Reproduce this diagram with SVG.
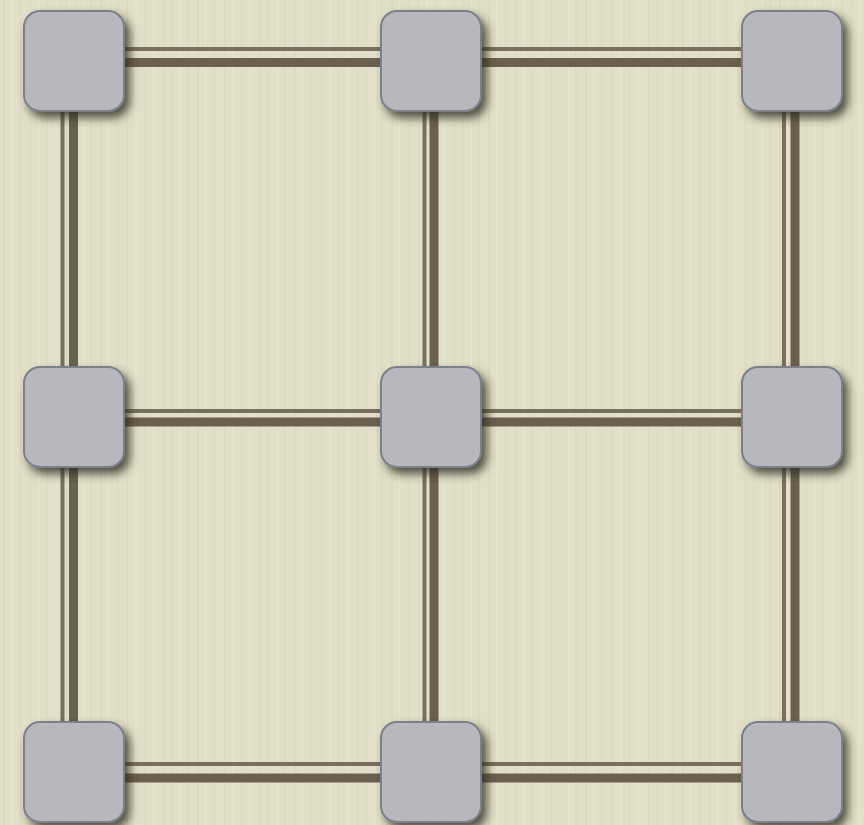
<svg xmlns="http://www.w3.org/2000/svg" width="864" height="825" viewBox="0 0 864 825">
<defs>
<pattern id="tex" x="0" y="0" width="97" height="825" patternUnits="userSpaceOnUse">
<rect width="97" height="825" fill="#e1dfc7"/>
<rect x="3" width="2" height="825" fill="#d3d2b6" opacity="0.4"/>
<rect x="11" width="1" height="825" fill="#ecebd8" opacity="0.6"/>
<rect x="19" width="3" height="825" fill="#d8d7bc" opacity="0.35"/>
<rect x="30" width="1" height="825" fill="#cfcfb2" opacity="0.4"/>
<rect x="38" width="2" height="825" fill="#ebe9d6" opacity="0.5"/>
<rect x="47" width="1" height="825" fill="#d2d1b5" opacity="0.4"/>
<rect x="55" width="3" height="825" fill="#e9e7d3" opacity="0.45"/>
<rect x="66" width="1" height="825" fill="#d0cfb3" opacity="0.4"/>
<rect x="74" width="2" height="825" fill="#d9d8be" opacity="0.4"/>
<rect x="83" width="1" height="825" fill="#eceada" opacity="0.6"/>
<rect x="90" width="2" height="825" fill="#d4d3b7" opacity="0.35"/>
</pattern>
<filter id="sh" x="-20%" y="-20%" width="150%" height="150%">
<feDropShadow dx="5" dy="6" stdDeviation="5" flood-color="#2a2a20" flood-opacity="0.8"/>
</filter>
</defs>
<style>
.thin{stroke:#7a6f5f;stroke-width:4;fill:none}
.thick{stroke:#6b5f4f;stroke-width:9;fill:none}
.node rect{fill:#b8b7be;stroke:#7b8088;stroke-width:2;filter:url(#sh)}
</style>
<rect width="864" height="825" fill="url(#tex)"/>
<g id="connectors">
<line class="thin" x1="74" y1="49" x2="791" y2="49"/>
<line class="thick" x1="74" y1="62.5" x2="791" y2="62.5"/>
<line class="thin" x1="74" y1="411" x2="791" y2="411"/>
<line class="thick" x1="74" y1="422" x2="791" y2="422"/>
<line class="thin" x1="74" y1="764" x2="791" y2="764"/>
<line class="thick" x1="74" y1="778" x2="791" y2="778"/>
<line class="thin" x1="62.5" y1="61" x2="62.5" y2="772"/>
<line class="thick" x1="73.5" y1="61" x2="73.5" y2="772"/>
<line class="thin" x1="424.5" y1="61" x2="424.5" y2="772"/>
<line class="thick" x1="434" y1="61" x2="434" y2="772"/>
<line class="thin" x1="784" y1="61" x2="784" y2="772"/>
<line class="thick" x1="795" y1="61" x2="795" y2="772"/>
</g>
<g id="n1" class="node"><rect x="24" y="11" width="100" height="100" rx="16"/></g>
<g id="n2" class="node"><rect x="381" y="11" width="100" height="100" rx="16"/></g>
<g id="n3" class="node"><rect x="742" y="11" width="100" height="100" rx="16"/></g>
<g id="n4" class="node"><rect x="24" y="367" width="100" height="100" rx="16"/></g>
<g id="n5" class="node"><rect x="381" y="367" width="100" height="100" rx="16"/></g>
<g id="n6" class="node"><rect x="742" y="367" width="100" height="100" rx="16"/></g>
<g id="n7" class="node"><rect x="24" y="722" width="100" height="100" rx="16"/></g>
<g id="n8" class="node"><rect x="381" y="722" width="100" height="100" rx="16"/></g>
<g id="n9" class="node"><rect x="742" y="722" width="100" height="100" rx="16"/></g>
</svg>
